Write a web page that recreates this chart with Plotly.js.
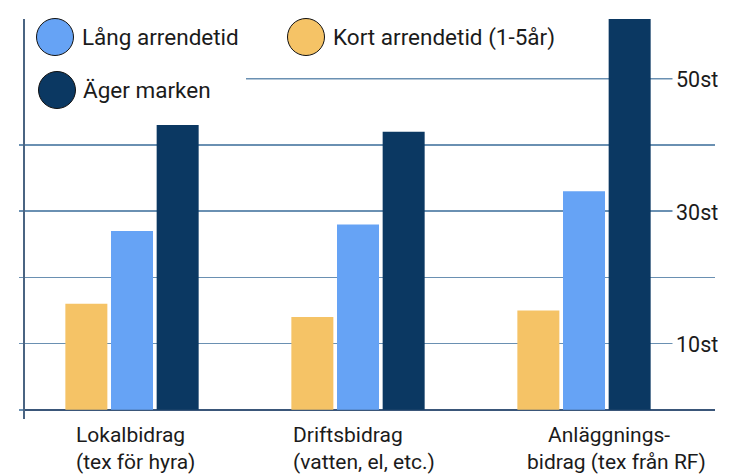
<!DOCTYPE html>
<html>
<head>
<meta charset="utf-8">
<script src="https://cdn.plot.ly/plotly-3.0.1.min.js"></script>
<style>html,body{margin:0;padding:0;background:#fff}#chart{width:755px;height:475px}</style>
</head>
<body>
<div id="chart"></div>
<script>
// ---- data ----
const categories = ['Lokalbidrag', 'Driftsbidrag', 'Anläggningsbidrag'];
const categoryLine1 = ['Lokalbidrag', 'Driftsbidrag', 'Anläggnings-'];
const categoryLine2 = ['(tex för hyra)', '(vatten, el, etc.)', 'bidrag (tex från RF)'];
const seriesNames = ['Kort arrendetid (1-5år)', 'Lång arrendetid', 'Äger marken'];
const kortArrendetid = [16, 14, 15];
const langArrendetid = [27, 28, 33];
const agerMarken = [43, 42, 60];
const tickVals = [10, 30, 50];
const tickLabels = ['10st', '30st', '50st'];

// ---- layout helpers (pixel -> paper) ----
const W = 755, H = 475, L = 25, R = 40, T = 19, B = 56;
const pw = W - L - R, ph = H - T - B;
const px = x => (x - L) / pw;
const py = y => (H - B - y) / ph;

const colors = ['#f5c366', '#66a3f5', '#0b3862'];
const values = [kortArrendetid, langArrendetid, agerMarken];
const font = 'Roboto, "Open Sans", sans-serif';
const textColor = '#1b1b1b';
const gridColor = '#6a90b2';

const traces = seriesNames.map((name, i) => ({
  type: 'bar', name: name, x: categories, y: values[i],
  marker: {color: colors[i], line: {width: 0}}, showlegend: false, hoverinfo: 'x+y+name'
}));

const annotations = [];
const shapes = [];

// right side tick labels with white background (hide gridline behind)
tickVals.forEach((v, i) => {
  annotations.push({xref: 'paper', yref: 'y', x: 1, y: v, xanchor: 'right', yanchor: 'middle',
    text: tickLabels[i], showarrow: false, bgcolor: '#ffffff', borderpad: 3, xshift: 7, yshift: -1,
    font: {family: font, size: 21.5, color: textColor}});
});

// gridline at 50 (partly hidden by legend)
shapes.push({type: 'line', xref: 'paper', yref: 'y', x0: px(246), x1: 1, y0: 50, y1: 50,
  line: {color: gridColor, width: 1.5}, layer: 'below'});

// legend (manual, large circles)
const legendItems = [
  {s: 1, cx: 55, cy: 37, tx: 81},
  {s: 0, cx: 306, cy: 37, tx: 332},
  {s: 2, cx: 57, cy: 90, tx: 82}
];
legendItems.forEach(it => {
  const r = 18.5;
  shapes.push({type: 'circle', xref: 'paper', yref: 'paper',
    x0: px(it.cx - r), x1: px(it.cx + r), y0: py(it.cy + r), y1: py(it.cy - r),
    fillcolor: colors[it.s], line: {color: '#111111', width: 1}, layer: 'above'});
  annotations.push({xref: 'paper', yref: 'paper', x: px(it.tx), y: py(it.cy), xanchor: 'left', yanchor: 'middle',
    text: seriesNames[it.s], showarrow: false, borderpad: 0,
    font: {family: font, size: 22.5, color: textColor}});
});

// category labels (two lines each)
const catLabelCfg = [
  {anchor: 'left', s1: -57, s2: -57},
  {anchor: 'left', s1: -66, s2: -66},
  {anchor: 'center', s1: 25, s2: 32}
];
categories.forEach((c, i) => {
  const cfg = catLabelCfg[i];
  [[categoryLine1[i], 435, cfg.s1], [categoryLine2[i], 462, cfg.s2]].forEach(([txt, y, sh]) => {
    annotations.push({xref: 'x', yref: 'paper', x: c, y: py(y), xanchor: cfg.anchor, yanchor: 'middle',
      text: txt, showarrow: false, borderpad: 0, xshift: sh,
      font: {family: font, size: 21, color: textColor}});
  });
});

const layout = {
  width: W, height: H,
  margin: {l: L, r: R, t: T, b: B, pad: 0},
  paper_bgcolor: '#ffffff', plot_bgcolor: '#ffffff',
  barmode: 'group', bargap: 0.394, bargroupgap: 0.08,
  showlegend: false,
  font: {family: font, color: textColor},
  xaxis: {type: 'category', range: [-0.4735, 2.5796], showticklabels: false, ticks: '',
    showgrid: false, zeroline: false, showline: false, fixedrange: true},
  yaxis: {range: [-1.39, 59.03], tickvals: [0, 10, 20, 30, 40], showticklabels: false,
    ticks: 'outside', ticklen: 4, tickwidth: 1.5, tickcolor: gridColor,
    showgrid: true, gridcolor: gridColor, gridwidth: 1.5,
    zeroline: true, zerolinecolor: '#3a5679', zerolinewidth: 2,
    showline: true, linecolor: '#4a6482', linewidth: 2, fixedrange: true},
  annotations: annotations,
  shapes: shapes
};

Plotly.newPlot('chart', traces, layout, {displayModeBar: false, staticPlot: true});
</script>
</body>
</html>
